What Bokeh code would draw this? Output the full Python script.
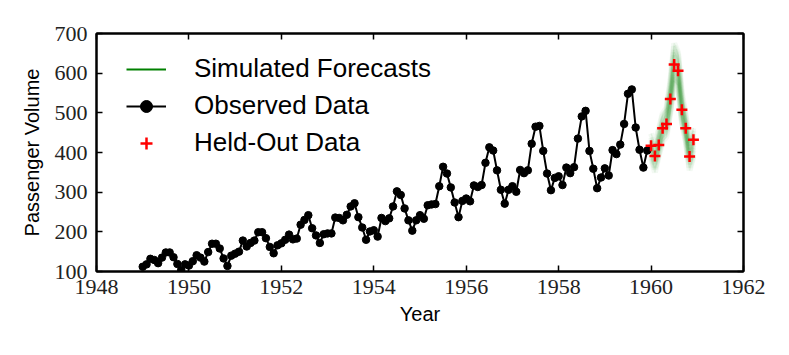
from bokeh.plotting import figure
from bokeh.models import LinearAxis, Legend, LegendItem, Range1d, FixedTicker
from bokeh.embed import file_html
from bokeh.resources import INLINE

# Observed monthly passenger volumes 1949-1959
observed = [
    112, 118, 132, 129, 121, 135, 148, 148, 136, 119, 104, 118,
    115, 126, 141, 135, 125, 149, 170, 170, 158, 133, 114, 140,
    145, 150, 178, 163, 172, 178, 199, 199, 184, 162, 146, 166,
    171, 180, 193, 181, 183, 218, 230, 242, 209, 191, 172, 194,
    196, 196, 236, 235, 229, 243, 264, 272, 237, 211, 180, 201,
    204, 188, 235, 227, 234, 264, 302, 293, 259, 229, 203, 229,
    242, 233, 267, 269, 270, 315, 364, 347, 312, 274, 237, 278,
    284, 277, 317, 313, 318, 374, 413, 405, 355, 306, 271, 306,
    315, 301, 356, 348, 355, 422, 465, 467, 404, 347, 305, 336,
    340, 318, 362, 348, 363, 435, 491, 505, 404, 359, 310, 337,
    360, 342, 406, 396, 420, 472, 548, 559, 463, 407, 362, 405,
]
start_year = 1949
# Held-out data, 1960
held_out = [417, 391, 419, 461, 472, 535, 622, 606, 508, 461, 390, 432]
holdout_year = 1960

# Simulated forecast paths for 1960
forecasts = [
    [418, 388, 425, 465, 478, 540, 630, 612, 512, 462, 395, 428],
    [400, 362, 400, 440, 455, 510, 595, 580, 485, 440, 370, 405],
    [438, 412, 452, 492, 505, 572, 668, 645, 540, 488, 418, 455],
    [412, 378, 418, 470, 470, 548, 645, 600, 500, 455, 382, 418],
    [385, 350, 392, 428, 440, 500, 580, 570, 475, 428, 355, 390],
    [448, 420, 458, 498, 512, 580, 675, 652, 550, 495, 425, 462],
    [422, 396, 428, 458, 485, 535, 620, 618, 515, 470, 400, 435],
    [392, 358, 398, 435, 448, 505, 588, 575, 480, 432, 362, 395],
    [428, 388, 435, 478, 492, 555, 652, 628, 522, 468, 400, 442],
    [410, 392, 415, 455, 468, 530, 612, 598, 505, 452, 388, 425],
    [405, 372, 408, 448, 460, 522, 605, 588, 492, 445, 378, 412],
    [432, 400, 440, 482, 498, 562, 658, 635, 530, 478, 408, 448],
]

x_ticks = [1948, 1950, 1952, 1954, 1956, 1958, 1960, 1962]
y_ticks = [100, 200, 300, 400, 500, 600, 700]

obs_x = [start_year + i / 12 for i in range(len(observed))]
ho_x = [holdout_year + i / 12 for i in range(len(held_out))]

p = figure(output_backend="svg", toolbar_location=None,
           frame_width=647, frame_height=238,
           min_border_left=96, min_border_right=38,
           min_border_top=33, min_border_bottom=76,
           x_range=Range1d(1948, 1962), y_range=Range1d(100, 700),
           x_axis_label="Year", y_axis_label="Passenger Volume")
p.grid.visible = False
p.outline_line_color = "black"
p.outline_line_width = 2
p.background_fill_color = "white"
p.border_fill_color = "white"

# forecasts
fc = p.multi_line(xs=[ho_x for _ in forecasts], ys=forecasts,
                  line_color="#2ca02c", line_alpha=0.06, line_width=6)
fc2 = p.multi_line(xs=[ho_x for _ in forecasts], ys=forecasts,
                   line_color="#008000", line_alpha=0.07, line_width=1.5)
fc_leg = p.line(ho_x, forecasts[0], line_color="#008000", line_width=2, visible=False)

obs_line = p.line(obs_x, observed, line_color="black", line_width=2)
obs_pts = p.scatter(obs_x, observed, size=7.5, fill_color="black", line_color="black")

ho = p.scatter(ho_x, held_out, marker="cross", size=11, line_color="red", line_width=2.5)

for ax in (p.xaxis[0], p.yaxis[0]):
    ax.axis_line_width = 2
    ax.major_tick_in = 6
    ax.major_tick_out = 0
    ax.major_tick_line_width = 1.5
    ax.minor_tick_line_color = None
    ax.major_label_text_font = "Liberation Serif"
    ax.major_label_text_font_size = "22px"
    ax.major_label_text_color = "#222222"
    ax.axis_label_text_font = "Liberation Sans"
    ax.axis_label_text_font_size = "20px"
    ax.axis_label_text_font_style = "normal"
    ax.axis_label_text_color = "black"

p.xaxis[0].ticker = FixedTicker(ticks=x_ticks)
p.yaxis[0].ticker = FixedTicker(ticks=y_ticks)
p.xaxis[0].major_label_standoff = 8
p.xaxis[0].axis_label_standoff = 6
p.yaxis[0].major_label_standoff = 9
p.yaxis[0].axis_label_standoff = 9

top = LinearAxis(ticker=FixedTicker(ticks=x_ticks),
                 major_label_overrides={t: "" for t in x_ticks},
                 major_tick_in=6, major_tick_out=0, major_tick_line_width=1.5,
                 minor_tick_line_color=None, axis_line_width=2)
right = LinearAxis(ticker=FixedTicker(ticks=y_ticks),
                   major_label_overrides={t: "" for t in y_ticks},
                   major_tick_in=6, major_tick_out=0, major_tick_line_width=1.5,
                   minor_tick_line_color=None, axis_line_width=2)
p.add_layout(top, "above")
p.add_layout(right, "right")

legend = Legend(items=[
    LegendItem(label="Simulated Forecasts", renderers=[fc_leg]),
    LegendItem(label="Observed Data", renderers=[obs_line, obs_pts]),
    LegendItem(label="Held-Out Data", renderers=[ho]),
], location=(30, 113))
legend.label_text_font = "Liberation Sans"
legend.label_text_font_size = "26px"
legend.label_text_color = "black"
legend.label_standoff = 28
legend.glyph_width = 40
legend.glyph_height = 30
legend.label_height = 30
legend.spacing = 6
legend.padding = 10
legend.margin = 0
legend.border_line_color = None
legend.background_fill_alpha = 0
legend.inactive_fill_alpha = 0
p.add_layout(legend)

open("out.html", "w").write(file_html(p, INLINE))
